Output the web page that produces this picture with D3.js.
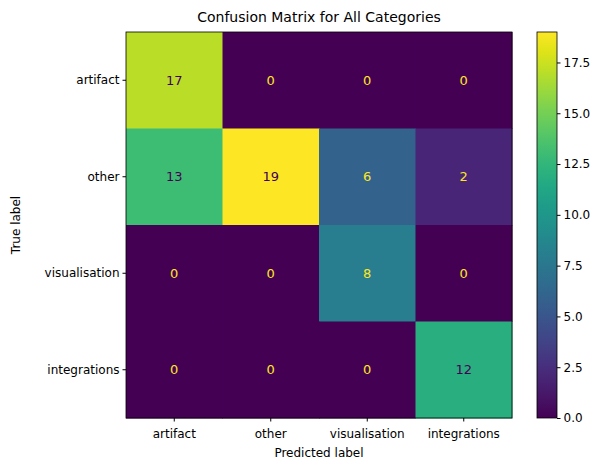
<!DOCTYPE html>
<html><head><meta charset="utf-8">
<script src="https://cdn.jsdelivr.net/npm/d3@7"></script>
<style>body{margin:0;background:#fff}text{font-family:"DejaVu Sans",sans-serif}</style>
</head><body>
<svg id="chart" width="606" height="470"></svg>
<script>
const labels = ["artifact", "other", "visualisation", "integrations"];
const matrix = [
  [17, 0, 0, 0],
  [13, 19, 6, 2],
  [0, 0, 8, 0],
  [0, 0, 0, 12]
];
const cbTicks = [0, 2.5, 5, 7.5, 10, 12.5, 15, 17.5];

const svg = d3.select("#chart");
const mLeft = 126, mTop = 32, size = 386;
const vmax = d3.max(matrix.flat()), vmin = 0;
const color = v => d3.interpolateViridis((v - vmin) / (vmax - vmin));

const x = d3.scaleBand().domain(d3.range(4)).range([mLeft, mLeft + size]);
const y = d3.scaleBand().domain(d3.range(4)).range([mTop, mTop + size]);

const cells = [];
matrix.forEach((row, i) => row.forEach((v, j) => cells.push({ i, j, v })));

svg.selectAll("rect.cell").data(cells).join("rect")
  .attr("x", d => x(d.j)).attr("y", d => y(d.i))
  .attr("width", x.bandwidth() + 0.5).attr("height", y.bandwidth() + 0.5)
  .attr("fill", d => color(d.v));

svg.selectAll("text.val").data(cells).join("text")
  .attr("x", d => x(d.j) + x.bandwidth() / 2).attr("y", d => y(d.i) + y.bandwidth() / 2)
  .attr("dy", "0.35em").attr("text-anchor", "middle").attr("font-size", 13)
  .attr("fill", d => d.v < (vmax + vmin) / 2 ? "#fde725" : "#440154")
  .text(d => d.v);

svg.append("rect").attr("x", mLeft).attr("y", mTop).attr("width", size).attr("height", size)
  .attr("fill", "none").attr("stroke", "#000").attr("stroke-width", 0.8);

const xAxis = svg.append("g").attr("transform", `translate(0,${mTop + size})`)
  .call(d3.axisBottom(x).tickFormat(i => labels[i]).tickSizeOuter(0).tickSize(3.5));
const yAxis = svg.append("g").attr("transform", `translate(${mLeft},0)`)
  .call(d3.axisLeft(y).tickFormat(i => labels[i]).tickSizeOuter(0).tickSize(3.5));
[xAxis, yAxis].forEach(a => {
  a.select(".domain").remove();
  a.selectAll("text").attr("font-size", 12).attr("fill", "#000");
});
xAxis.selectAll("text").attr("dy", "1.1em");

svg.append("text").attr("x", mLeft + size / 2).attr("y", 22).attr("text-anchor", "middle")
  .attr("font-size", 14).text("Confusion Matrix for All Categories");
svg.append("text").attr("x", mLeft + size / 2).attr("y", 457).attr("text-anchor", "middle")
  .attr("font-size", 12).text("Predicted label");
svg.append("text").attr("transform", `translate(20,${mTop + size / 2}) rotate(-90)`)
  .attr("text-anchor", "middle").attr("font-size", 12).text("True label");

// colorbar
const cbX = 537, cbW = 20;
const cy = d3.scaleLinear().domain([vmin, vmax]).range([mTop + size, mTop]);
const defs = svg.append("defs");
const grad = defs.append("linearGradient").attr("id", "cb").attr("x1", 0).attr("y1", 1).attr("x2", 0).attr("y2", 0);
d3.range(0, 1.001, 0.05).forEach(t => grad.append("stop").attr("offset", t).attr("stop-color", d3.interpolateViridis(t)));
svg.append("rect").attr("x", cbX).attr("y", mTop).attr("width", cbW).attr("height", size)
  .attr("fill", "url(#cb)").attr("stroke", "#000").attr("stroke-width", 0.8);
const cAxis = svg.append("g").attr("transform", `translate(${cbX + cbW},0)`)
  .call(d3.axisRight(cy).tickValues(cbTicks).tickFormat(d3.format(".1f")).tickSize(3.5));
cAxis.select(".domain").remove();
cAxis.selectAll("text").attr("font-size", 12).attr("fill", "#000");
</script>
</body></html>
